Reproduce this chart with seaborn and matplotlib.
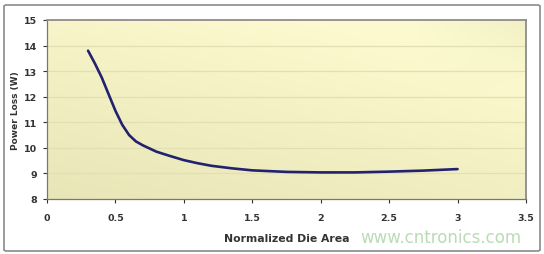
import numpy as np
import pandas as pd
import matplotlib
matplotlib.use("Agg")
import matplotlib.pyplot as plt
import seaborn as sns
from matplotlib.patches import FancyBboxPatch

# data
die_area = [0.3, 0.35, 0.4, 0.45, 0.5, 0.55, 0.6, 0.65, 0.7, 0.8, 0.9, 1.0,
            1.1, 1.2, 1.35, 1.5, 1.75, 2.0, 2.25, 2.5, 2.75, 3.0]
power_loss = [13.8, 13.3, 12.75, 12.1, 11.45, 10.9, 10.5, 10.25, 10.1, 9.85,
              9.68, 9.52, 9.4, 9.3, 9.2, 9.12, 9.06, 9.04, 9.04, 9.07, 9.11, 9.17]
x_ticks = [0, 0.5, 1, 1.5, 2, 2.5, 3, 3.5]
x_tick_labels = ["0", "0.5", "1", "1.5", "2", "2.5", "3", "3.5"]
y_ticks = [8, 9, 10, 11, 12, 13, 14, 15]
x_label = "Normalized Die Area"
y_label = "Power Loss (W)"
watermark = "www.cntronics.com"

df = pd.DataFrame({"area": die_area, "loss": power_loss})

sns.set_theme(style="white")
plt.rcParams["font.family"] = ["DejaVu Sans"]

fig = plt.figure(figsize=(5.44, 2.55), dpi=100)
fig.patch.set_facecolor("white")

# outer frame
frame = FancyBboxPatch((4 / 544, 1 - 252 / 255), 536 / 544, 246 / 255,
                       boxstyle="round,pad=0,rounding_size=0.005",
                       transform=fig.transFigure, facecolor="none",
                       edgecolor="#8a8a8a", linewidth=1.2, zorder=10)
fig.patches.append(frame)

ax = fig.add_axes([47 / 544, 1 - 200 / 255, 479 / 544, 179 / 255])

# gradient background
ny, nx = 60, 120
yy, xx = np.mgrid[0:1:ny * 1j, 0:1:nx * 1j]
t = np.clip(0.5 * xx + 0.8 * yy, 0, 1.1) / 1.1
c_low = np.array([0.91, 0.90, 0.72])
c_high = np.array([0.99, 0.98, 0.81])
img = c_low[None, None, :] * (1 - t[..., None]) + c_high[None, None, :] * t[..., None]
corner = np.clip((xx - 0.75) * 3, 0, 1) * np.clip((yy - 0.6) * 2.5, 0, 1)
img = img * (1 - 0.05 * corner[..., None])
ax.imshow(img, extent=[0, 3.5, 8, 15], origin="lower", aspect="auto", zorder=0)

for yv in y_ticks[1:-1]:
    ax.axhline(yv, color="#e2dfb4", linewidth=0.9, zorder=1)

sns.lineplot(data=df, x="area", y="loss", ax=ax, color="#22226e",
             linewidth=1.9, zorder=3)

ax.set_xlim(0, 3.5)
ax.set_ylim(8, 15)
ax.set_xticks(x_ticks)
ax.set_xticklabels(x_tick_labels)
ax.set_yticks(y_ticks)
ax.tick_params(axis="both", labelsize=6.8, colors="#333333", length=3,
               width=0.8, direction="out", bottom=True, left=True)
ax.tick_params(axis="x", pad=7)
ax.tick_params(axis="y", pad=4)
for lab in ax.get_xticklabels() + ax.get_yticklabels():
    lab.set_fontweight("bold")
ax.set_xlabel(x_label, fontsize=7.8, fontweight="bold", color="#333333", labelpad=8)
ax.set_ylabel(y_label, fontsize=6.5, fontweight="bold", color="#333333", labelpad=3)

for side in ["left", "bottom"]:
    ax.spines[side].set_color("#777777")
    ax.spines[side].set_linewidth(0.9)
for side in ["top", "right"]:
    ax.spines[side].set_color("#8c8c8c")
    ax.spines[side].set_linewidth(1.3)

fig.text(441 / 544, 1 - 238 / 255, watermark, ha="center", va="center",
         fontsize=12, color="#b9dcb4", zorder=5)

fig.savefig("out.png", dpi=100)
